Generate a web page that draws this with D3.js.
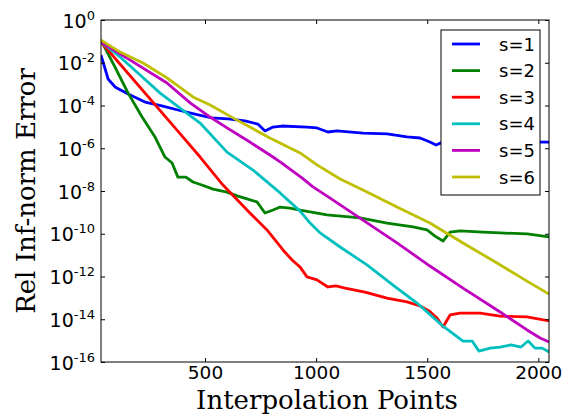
<!DOCTYPE html>
<html>
<head>
<meta charset="utf-8">
<script src="https://cdn.jsdelivr.net/npm/d3@7"></script>
<style>
  body { margin: 0; background: #fff; }
</style>
</head>
<body>
<svg id="chart" width="568" height="420"></svg>
<script>
// values: N and log10(rel error)
const s1N = [32, 64, 95, 154, 230, 306, 378, 455, 531, 603, 680, 738, 770, 806, 846, 959, 1004, 1053, 1094, 1211, 1319, 1409, 1468, 1512, 1540, 1562, 1700, 1850, 2048];
const s1E = [-1.64, -2.76, -3.13, -3.46, -3.84, -4.02, -4.21, -4.40, -4.58, -4.63, -4.72, -4.87, -5.19, -5.01, -4.96, -5.01, -5.05, -5.24, -5.19, -5.29, -5.33, -5.47, -5.52, -5.71, -5.85, -5.75, -5.72, -5.70, -5.71];

const s2N = [32, 95, 154, 217, 275, 288, 320, 352, 378, 414, 446, 486, 536, 599, 644, 689, 734, 770, 806, 838, 882, 928, 1049, 1198, 1319, 1436, 1499, 1535, 1571, 1603, 1648, 1751, 1828, 1949, 2048];
const s2E = [-0.94, -2.20, -3.42, -4.54, -5.47, -5.75, -6.41, -6.69, -7.35, -7.35, -7.58, -7.72, -7.91, -8.05, -8.23, -8.37, -8.51, -9.03, -8.89, -8.75, -8.80, -8.89, -9.12, -9.26, -9.50, -9.68, -9.82, -10.11, -10.34, -9.92, -9.87, -9.92, -9.96, -10.01, -10.15];

const s3N = [32, 374, 478, 581, 702, 779, 851, 892, 928, 959, 1004, 1053, 1090, 1130, 1220, 1319, 1409, 1468, 1508, 1544, 1571, 1603, 1648, 1738, 1828, 1949, 2048];
const s3E = [-1.03, -5.15, -6.41, -7.72, -9.03, -9.82, -10.76, -11.23, -11.56, -12.02, -12.16, -12.49, -12.44, -12.54, -12.73, -13.01, -13.19, -13.38, -13.61, -13.94, -14.36, -13.80, -13.71, -13.71, -13.85, -13.89, -14.08];

const s4N = [32, 118, 208, 298, 388, 478, 599, 716, 838, 928, 973, 1018, 1108, 1229, 1346, 1454, 1571, 1661, 1702, 1733, 1783, 1828, 1877, 1922, 1954, 1985, 2017, 2048];
const s4E = [-1.03, -1.73, -2.57, -3.42, -4.12, -4.82, -6.18, -7.02, -8.09, -8.94, -9.50, -9.96, -10.62, -11.46, -12.40, -13.24, -14.32, -15.02, -15.02, -15.49, -15.35, -15.30, -15.20, -15.30, -15.02, -15.35, -15.35, -15.53];

const s5N = [32, 176, 329, 433, 523, 599, 702, 806, 838, 936, 986, 1063, 1211, 1364, 1512, 1661, 1828, 1949, 2008, 2048];
const s5E = [-1.03, -1.96, -2.95, -3.88, -4.54, -5.05, -5.71, -6.41, -6.64, -7.39, -7.81, -8.33, -9.36, -10.43, -11.51, -12.54, -13.66, -14.50, -14.88, -15.06];

const s6N = [32, 118, 221, 329, 446, 523, 626, 702, 792, 928, 1004, 1108, 1211, 1364, 1512, 1661, 1814, 1962, 2048];
const s6E = [-0.94, -1.50, -2.01, -2.71, -3.60, -3.98, -4.58, -5.01, -5.52, -6.22, -6.78, -7.44, -7.95, -8.75, -9.50, -10.43, -11.37, -12.30, -12.82];

const names = ["s=1", "s=2", "s=3", "s=4", "s=5", "s=6"];
const colors = ["#0000ff", "#008000", "#ff0000", "#00bfbf", "#bf00bf", "#bfbf00"];
const xTicks = [500, 1000, 1500, 2000];
const yExps = [0, -2, -4, -6, -8, -10, -12, -14, -16];

const series = [[s1N, s1E], [s2N, s2E], [s3N, s3E], [s4N, s4E], [s5N, s5E], [s6N, s6E]].map((s, i) => ({
  name: names[i],
  color: colors[i],
  values: s[0].map((n, j) => ({ n: n, e: Math.pow(10, s[1][j]) }))
}));

const width = 568, height = 420;
const margin = { top: 20, right: 19, bottom: 58, left: 101 };
const iw = width - margin.left - margin.right;
const ih = height - margin.top - margin.bottom;

const svg = d3.select("#chart");
const g = svg.append("g").attr("transform", `translate(${margin.left},${margin.top})`);

const x = d3.scaleLinear().domain([32, 2048]).range([0, iw]);
const y = d3.scaleLog().domain([1e-16, 1]).range([ih, 0]);

g.append("defs").append("clipPath").attr("id", "clip")
  .append("rect").attr("width", iw).attr("height", ih);

// lines
const line = d3.line().x(d => x(d.n)).y(d => y(d.e));
g.append("g").attr("clip-path", "url(#clip)")
  .selectAll("path")
  .data(series)
  .join("path")
  .attr("fill", "none")
  .attr("stroke", d => d.color)
  .attr("stroke-width", 2.8)
  .attr("stroke-linejoin", "round")
  .attr("d", d => line(d.values));

// frame
g.append("rect")
  .attr("width", iw).attr("height", ih)
  .attr("fill", "none").attr("stroke", "#000").attr("stroke-width", 1);

// ticks, inward on all four sides
const tickLen = 4;
const yVals = yExps.map(e => Math.pow(10, e));

const axBottom = g.append("g").attr("transform", `translate(0,${ih})`)
  .call(d3.axisBottom(x).tickValues(xTicks).tickFormat(d3.format("d"))
    .tickSizeInner(-tickLen).tickSizeOuter(0).tickPadding(4));
const axTop = g.append("g")
  .call(d3.axisTop(x).tickValues(xTicks).tickSizeInner(-tickLen).tickSizeOuter(0).tickFormat(""));
const axLeft = g.append("g")
  .call(d3.axisLeft(y).tickValues(yVals).tickSizeInner(-tickLen).tickSizeOuter(0).tickFormat(""));
const axRight = g.append("g").attr("transform", `translate(${iw},0)`)
  .call(d3.axisRight(y).tickValues(yVals).tickSizeInner(-tickLen).tickSizeOuter(0).tickFormat(""));

[axBottom, axTop, axLeft, axRight].forEach(a => {
  a.select(".domain").remove();
  a.selectAll("line").attr("stroke", "#000");
});

axBottom.selectAll("text")
  .attr("font-family", "DejaVu Sans")
  .attr("font-size", 18.5)
  .attr("fill", "#000");

// y labels as 10 with superscript exponent
axLeft.selectAll(".tick").each(function (d) {
  const e = Math.round(Math.log10(d));
  const t = d3.select(this).append("text")
    .attr("x", -6)
    .attr("y", 7)
    .attr("text-anchor", "end")
    .attr("font-family", "DejaVu Sans")
    .attr("font-size", 19)
    .attr("fill", "#000");
  t.append("tspan").text("10");
  t.append("tspan").attr("dy", -8).attr("font-size", 13).text(e === 0 ? "0" : "-" + Math.abs(e));
});

// axis titles
svg.append("text")
  .attr("x", margin.left + iw / 2 + 2)
  .attr("y", 409)
  .attr("text-anchor", "middle")
  .attr("font-family", "DejaVu Serif")
  .attr("font-size", 26)
  .attr("fill", "#000")
  .text("Interpolation Points");

svg.append("text")
  .attr("transform", `translate(35,${margin.top + ih / 2}) rotate(-90)`)
  .attr("text-anchor", "middle")
  .attr("font-family", "DejaVu Serif")
  .attr("font-size", 26)
  .attr("fill", "#000")
  .text("Rel Inf-norm Error");

// legend
const lx = 441 - margin.left, ly = 30 - margin.top;
const leg = g.append("g").attr("transform", `translate(${lx},${ly})`);
leg.append("rect")
  .attr("width", 99).attr("height", 165)
  .attr("fill", "#fff").attr("stroke", "#000").attr("stroke-width", 1);

const rows = leg.selectAll("g.row")
  .data(series)
  .join("g")
  .attr("class", "row")
  .attr("transform", (d, i) => `translate(0,${14 + i * 26.6})`);

rows.append("line")
  .attr("x1", 11).attr("x2", 39)
  .attr("stroke", d => d.color)
  .attr("stroke-width", 2.8);

rows.append("text")
  .attr("x", 58)
  .attr("y", 6.5)
  .attr("font-family", "DejaVu Sans")
  .attr("font-size", 18)
  .attr("fill", "#000")
  .text(d => d.name);
</script>
</body>
</html>
